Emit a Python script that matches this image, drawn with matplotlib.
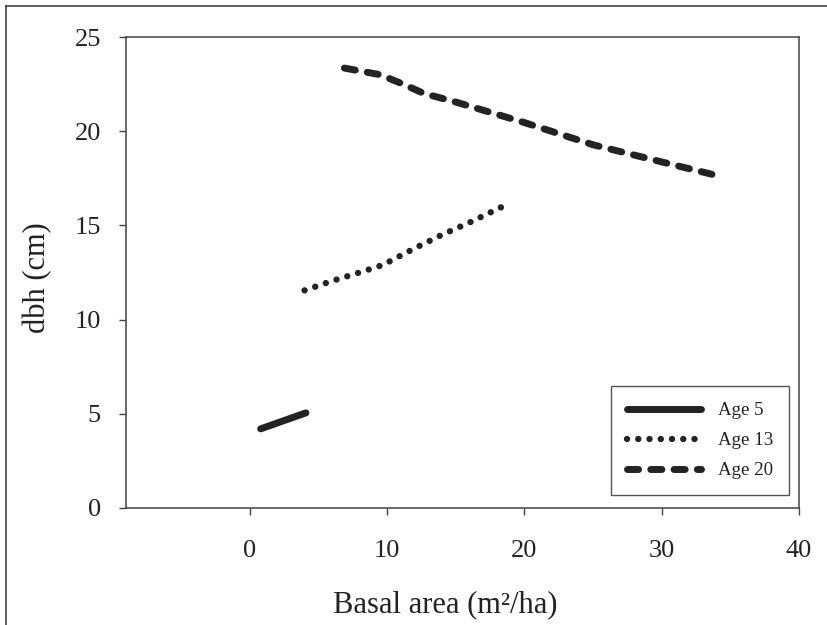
# dbh against basal area for three stand ages
import matplotlib
matplotlib.use("Agg")
import matplotlib.pyplot as plt
from matplotlib.lines import Line2D

age5_ba = [0.8, 4.1]
age5_dbh = [4.2, 5.05]

age13_ba = [4.0, 6.0, 8.0, 9.7, 12.0, 14.0, 16.0, 18.5]
age13_dbh = [11.55, 12.05, 12.5, 12.9, 13.78, 14.5, 15.15, 16.03]

age20_ba = [6.9, 9.5, 11.0, 12.7, 15.0, 20.0, 25.0, 30.0, 34.0]
age20_dbh = [23.35, 23.0, 22.55, 22.0, 21.55, 20.46, 19.28, 18.37, 17.65]

xticks = [0, 10, 20, 30, 40]
yticks = [0, 5, 10, 15, 20, 25]


def make_plot():
    plt.rcParams["font.family"] = ["Liberation Serif", "DejaVu Serif"]
    ink = "#232323"

    fig = plt.figure(figsize=(8.28, 6.25), dpi=100)
    ax = fig.add_axes([126 / 828, 1 - 508 / 625, 673 / 828, 471 / 625])

    ax.plot(age5_ba, age5_dbh, "-", color=ink, lw=5, solid_capstyle="round", label="Age 5")
    ax.plot(age13_ba, age13_dbh, color=ink, lw=4.6, linestyle=(0, (0.01, 1.75)),
            dash_capstyle="round", label="Age 13")
    ax.plot(age20_ba, age20_dbh, color=ink, lw=5, linestyle=(0, (1.6, 1.75)),
            dash_capstyle="round", label="Age 20")

    ax.set_xlim(-9, 40)
    ax.set_ylim(0, 25)
    ax.set_xticks(xticks)
    ax.set_yticks(yticks)
    ax.tick_params(direction="out", length=5, width=1, colors="#444444",
                   labelcolor="#222222", labelsize=19, pad=13)
    ax.tick_params(axis="x", pad=18)
    for s in ax.spines.values():
        s.set_color("#444444")
        s.set_linewidth(1.1)

    ax.set_xlabel("Basal area (m²/ha)", fontsize=22, color="#222222")
    ax.set_ylabel("dbh (cm)", fontsize=22, color="#222222")
    ax.xaxis.label.set_va("center")
    ax.xaxis.set_label_coords(0.475, -0.205)
    ax.yaxis.label.set_va("center")
    ax.yaxis.set_label_coords(-0.131, 0.49)

    leg = ax.legend(loc="upper left", bbox_to_anchor=(0.7207, 0.259), borderaxespad=0,
                    fontsize=13.6, handlelength=3.9, handletextpad=0.9, labelspacing=0.68,
                    borderpad=0.85, fancybox=False, framealpha=1)
    leg.get_frame().set_edgecolor("#555555")
    leg.get_frame().set_linewidth(1.0)
    for t in leg.get_texts():
        t.set_color("#222222")

    # outer frame, cut off on the right and bottom like the scan
    fig.add_artist(Line2D([6 / 828, 6 / 828], [0, 1 - 6 / 625], transform=fig.transFigure,
                          color="#333333", lw=1.1))
    fig.add_artist(Line2D([6 / 828, 1], [1 - 6 / 625, 1 - 6 / 625], transform=fig.transFigure,
                          color="#333333", lw=1.1))

    fig.savefig("out.png", dpi=100)


if __name__ == "__main__":
    make_plot()
